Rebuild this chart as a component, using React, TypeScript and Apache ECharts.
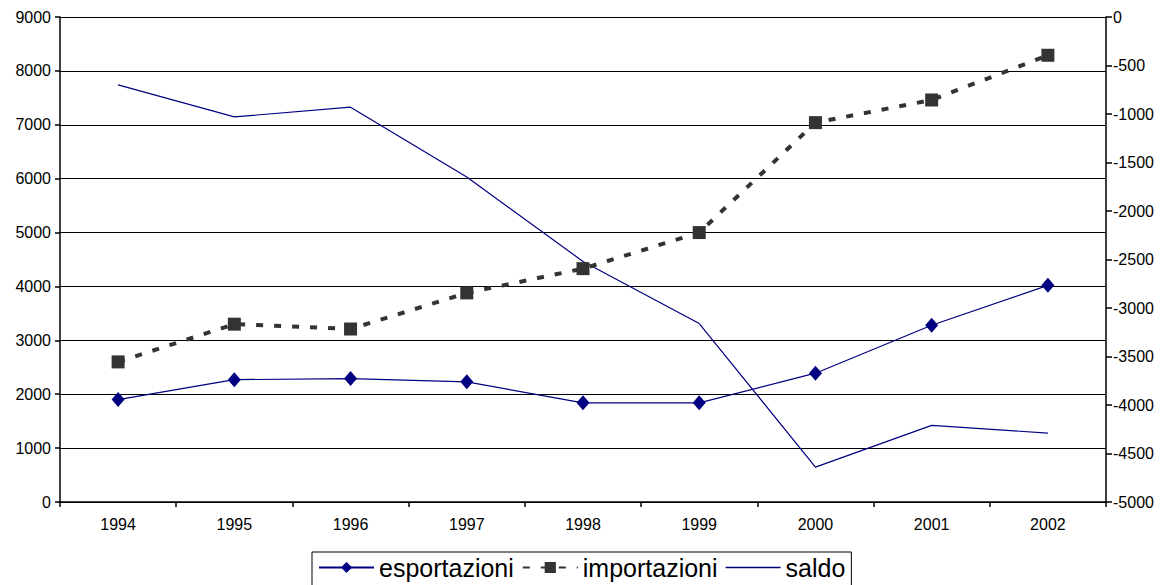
import React, { useEffect, useRef } from "react";
import * as echarts from "echarts";

const years = ["1994", "1995", "1996", "1997", "1998", "1999", "2000", "2001", "2002"];
const esportazioni = [1900, 2270, 2290, 2230, 1840, 1840, 2390, 3280, 4020];
const importazioni = [2600, 3300, 3210, 3880, 4330, 5000, 7040, 7460, 8290];
const saldo = [-700, -1030, -930, -1650, -2520, -3160, -4640, -4210, -4290];

const FONT = "Arial, 'Liberation Sans', sans-serif";
const plain = (v: number) => String(v);

export default function App() {
  const ref = useRef<HTMLDivElement>(null);
  useEffect(() => {
    if (!ref.current) return;
    const chart = echarts.init(ref.current, undefined, { renderer: "svg" });
    chart.setOption({
      animation: false,
      backgroundColor: "#ffffff",
      textStyle: { fontFamily: FONT },
      grid: { left: 60, right: 59, top: 17, bottom: 83, containLabel: false },
      legend: {
        left: 312,
        top: 552,
        orient: "horizontal",
        padding: [3, 6, 8, 6],
        itemGap: 8,
        itemWidth: 55,
        itemHeight: 14,
        borderColor: "#000",
        borderWidth: 1,
        textStyle: { fontSize: 25, color: "#000", fontFamily: FONT },
        data: [
          "esportazioni",
          "importazioni",
          { name: "saldo", icon: "path://M0,0 h55 v1.3 h-55 z" },
        ],
      },
      xAxis: {
        type: "category",
        data: years,
        boundaryGap: true,
        axisLine: { lineStyle: { color: "#000", width: 1.5 } },
        axisTick: { show: true, interval: 0, length: 5, lineStyle: { color: "#000", width: 1.5 } },
        axisLabel: { fontSize: 16, color: "#000", margin: 14, fontFamily: FONT },
        splitLine: { show: false },
      },
      yAxis: [
        {
          type: "value",
          min: 0,
          max: 9000,
          interval: 1000,
          position: "left",
          axisLine: { show: true, lineStyle: { color: "#000", width: 1.5 } },
          axisTick: { show: true, length: 5, lineStyle: { color: "#000", width: 1.5 } },
          axisLabel: { fontSize: 16, color: "#000", margin: 9, fontFamily: FONT, formatter: plain },
          splitLine: { show: true, lineStyle: { color: "#000", width: 1.2 } },
        },
        {
          type: "value",
          min: -5000,
          max: 0,
          interval: 500,
          position: "right",
          axisLine: { show: true, lineStyle: { color: "#000", width: 1.5 } },
          axisTick: { show: true, length: 6, lineStyle: { color: "#000", width: 1.5 } },
          axisLabel: { fontSize: 16, color: "#000", margin: 7, fontFamily: FONT, formatter: plain },
          splitLine: { show: false },
        },
      ],
      series: [
        {
          name: "esportazioni",
          type: "line",
          yAxisIndex: 0,
          data: esportazioni,
          symbol: "diamond",
          symbolSize: [13, 15],
          itemStyle: { color: "#000080" },
          lineStyle: { color: "#000080", width: 1.2 },
          z: 3,
        },
        {
          name: "importazioni",
          type: "line",
          yAxisIndex: 0,
          data: importazioni,
          symbol: "rect",
          symbolSize: 13,
          itemStyle: { color: "#333333" },
          lineStyle: { color: "#333333", width: 4, type: [7, 11] },
          z: 2,
        },
        {
          name: "saldo",
          type: "line",
          yAxisIndex: 1,
          data: saldo,
          symbol: "none",
          itemStyle: { color: "#000080" },
          lineStyle: { color: "#000080", width: 1.2 },
          z: 1,
        },
      ],
    });
    return () => chart.dispose();
  }, []);
  return (
    <div
      ref={ref}
      style={{ position: "absolute", left: 0, top: 0, width: 1165, height: 585 }}
    />
  );
}
